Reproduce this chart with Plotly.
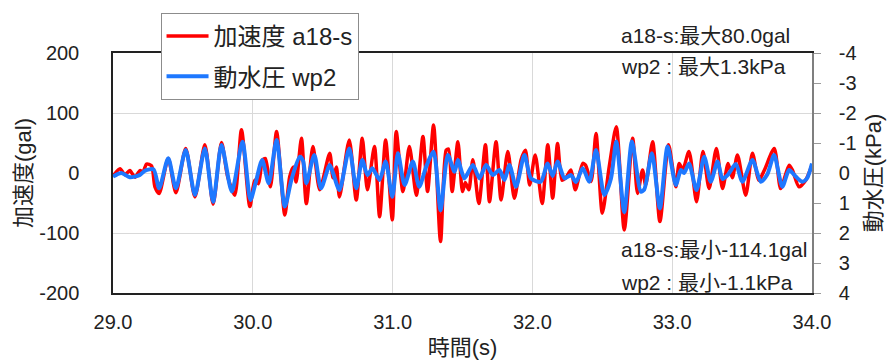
import plotly.graph_objects as go

# 加速度 a18-s (gal)
acc_t = [29.00, 29.05, 29.086, 29.12, 29.157, 29.193, 29.215, 29.24, 29.276, 29.30,
         29.33, 29.395, 29.45, 29.52, 29.586, 29.657, 29.716, 29.776, 29.82, 29.871,
         29.919, 29.979, 30.014, 30.04, 30.07, 30.09, 30.126, 30.17, 30.229, 30.264,
         30.29, 30.31, 30.348, 30.383, 30.43, 30.479, 30.55, 30.574, 30.598, 30.62,
         30.69, 30.74, 30.783, 30.82, 30.87, 30.907, 30.95, 30.998, 31.026, 31.074,
         31.12, 31.17, 31.217, 31.25, 31.293, 31.343, 31.383, 31.40, 31.426, 31.467,
         31.50, 31.52, 31.545, 31.574, 31.617, 31.664, 31.693, 31.74, 31.776, 31.824,
         31.871, 31.919, 31.95, 31.98, 32.02, 32.07, 32.11, 32.145, 32.18, 32.212,
         32.24, 32.276, 32.307, 32.36, 32.38, 32.42, 32.455, 32.50, 32.55, 32.60,
         32.657, 32.717, 32.752, 32.788, 32.81, 32.86, 32.912, 32.974, 33.026, 33.05,
         33.075, 33.12, 33.174, 33.22, 33.264, 33.316, 33.36, 33.40, 33.43, 33.467,
         33.526, 33.574, 33.62, 33.66, 33.73, 33.776, 33.836, 33.86, 33.907, 33.955,
         34.00]
acc_v = [-5, 7, -3, 4, -7, 4, 2, 15, 12, -23,
         -34, 24, -33, 41, -40, 47, -52, 51, -6, -37,
         72, -56, -12, -18, 22, 24, -23, 69, -70, -6,
         10, -15, 58, -51, 44, -28, 33, -8, 10, -40,
         55, -45, 58, -28, 44, -73, 55, -78, 69, -31,
         44, -37, 61, -31, 80.0, -114.1, 38, 40, -31, 52,
         -31, -16, -28, 22, -51, 47, -48, 52, -45, 36,
         -42, 22, 38, -20, 30, -51, 47, -42, 49, -12,
         -8, 5, -28, 16, 13, -14, 66, -67, 11, 77,
         -95, 58, -34, 5, -20, 52, -81, 47, -23, 16,
         5, 36, -48, 36, -26, 41, -26, 16, -8, 30,
         -37, 33, -12, 5, 41, -26, 13, 5, -23, -12,
         13]

# 動水圧 wp2 (kPa)
wp_t = [29.00, 29.06, 29.12, 29.19, 29.23, 29.29, 29.33, 29.395, 29.45, 29.52,
        29.586, 29.657, 29.716, 29.776, 29.85, 29.926, 29.983, 30.02, 30.067, 30.114,
        30.17, 30.229, 30.276, 30.336, 30.36, 30.383, 30.44, 30.488, 30.55, 30.574,
        30.62, 30.69, 30.74, 30.783, 30.82, 30.855, 30.907, 30.95, 30.998, 31.038,
        31.086, 31.145, 31.19, 31.24, 31.293, 31.343, 31.395, 31.443, 31.467, 31.514,
        31.574, 31.621, 31.669, 31.717, 31.764, 31.80, 31.836, 31.883, 31.943, 31.99,
        32.06, 32.109, 32.145, 32.18, 32.23, 32.276, 32.312, 32.36, 32.407, 32.455,
        32.514, 32.562, 32.60, 32.657, 32.712, 32.776, 32.80, 32.855, 32.912, 32.967,
        33.026, 33.062, 33.085, 33.12, 33.174, 33.229, 33.276, 33.324, 33.36, 33.40,
        33.455, 33.502, 33.574, 33.633, 33.68, 33.729, 33.788, 33.836, 33.88, 33.93,
        33.964, 34.00]
wp_v = [0.12, 0.0, 0.14, 0.07, -0.08, -0.12, 0.51, -0.49, 0.51, -0.77,
        0.73, -0.82, 0.96, -0.93, 0.62, -1.04, 0.90, 0.33, -0.43, 0.34,
        -1.1, 1.12, 0.23, -0.54, -0.40, 0.34, -0.60, 0.51, -0.27, 0.0,
        0.57, -0.82, 0.51, -0.43, 0.07, -0.16, 0.23, -0.38, 0.79, -0.66,
        0.40, -0.38, 0.46, -0.21, -0.71, 1.24, -0.60, -0.04, -0.43, 0.18,
        -0.27, 0.18, -0.27, 0.07, -0.10, 0.23, -0.27, 0.46, -0.60, 0.18,
        0.29, -0.32, 0.10, -0.38, 0.18, 0.07, 0.30, -0.16, 0.29, -0.77,
        0.73, 0.18, -1.05, 1.3, -1.05, 0.62, 0.55, -0.66, 1.18, -0.88,
        0.40, -0.10, 0.0, -0.32, 0.57, -0.54, 0.29, -0.38, 0.20, 0.05,
        -0.30, 0.29, -0.43, 0.29, 0.05, -0.60, 0.46, -0.10, 0.10, 0.29,
        0.18, -0.32]

x_ticks = [29.0, 30.0, 31.0, 32.0, 33.0, 34.0]
x_tick_text = ["29.0", "30.0", "31.0", "32.0", "33.0", "34.0"]
acc_ticks = [-200, -100, 0, 100, 200]
acc_tick_text = ["-200", "-100", "0", "100", "200"]
wp_ticks = [-4, -3, -2, -1, 0, 1, 2, 3, 4]
wp_tick_text = ["-4", "-3", "-2", "-1", "0", "1", "2", "3", "4"]

notes_top = ["a18-s:最大80.0gal", "wp2 : 最大1.3kPa"]
notes_bottom = ["a18-s:最小-114.1gal", "wp2 : 最小-1.1kPa"]

FONT = "Liberation Sans, Arial, Noto Sans CJK JP, sans-serif"
TEXT = "#222222"

fig = go.Figure()
fig.add_trace(go.Scatter(
    x=acc_t, y=acc_v, name="加速度 a18-s", mode="lines",
    line=dict(color="#ff0000", width=3.5, shape="spline", smoothing=0.7),
    legendgroup="acc", yaxis="y",
))
fig.add_trace(go.Scatter(
    x=wp_t, y=wp_v, name="動水圧 wp2", mode="lines",
    line=dict(color="#1e78ff", width=4, shape="spline", smoothing=0.7),
    legendgroup="wp", yaxis="y2",
))

fig.update_layout(
    width=891, height=363,
    margin=dict(l=113, r=79, t=53, b=70),
    paper_bgcolor="white", plot_bgcolor="white",
    font=dict(family=FONT, size=20, color=TEXT),
    showlegend=True,
    legend=dict(
        x=0.068, y=1.167, xanchor="left", yanchor="top",
        bgcolor="white", bordercolor="#8c8c8c", borderwidth=1,
        font=dict(size=24, color=TEXT),
        traceorder="grouped", tracegroupgap=6,
        itemwidth=42,
    ),
    xaxis=dict(
        range=[29.0, 34.0], tickvals=x_ticks, ticktext=x_tick_text,
        showgrid=True, gridcolor="#d9d9d9", gridwidth=1,
        showline=True, linecolor="#222222", linewidth=1.5, mirror=True,
        ticks="", ticklabelstandoff=10, zeroline=False,
        tickfont=dict(size=20),
        title=dict(text="時間(s)", font=dict(size=22), standoff=8),
        automargin=False,
    ),
    yaxis=dict(
        range=[-200, 200], tickvals=acc_ticks, ticktext=acc_tick_text,
        showgrid=True, gridcolor="#d9d9d9", gridwidth=1,
        showline=True, linecolor="#222222", linewidth=1.5,
        ticks="", ticklabelstandoff=28, zeroline=False,
        tickfont=dict(size=20),
        title=dict(text="加速度(gal)", font=dict(size=22), standoff=2),
        automargin=False,
    ),
    yaxis2=dict(
        range=[4, -4], tickvals=wp_ticks, ticktext=wp_tick_text,
        overlaying="y", side="right",
        showgrid=False, zeroline=False,
        showline=True, linecolor="#7f7f7f", linewidth=1.5,
        ticks="outside", ticklen=7, tickcolor="#9a9a9a", tickwidth=1,
        ticklabelstandoff=14,
        tickfont=dict(size=20),
        title=dict(text="動水圧(kPa)", font=dict(size=22), standoff=10),
        automargin=False,
    ),
)

for i, txt in enumerate(notes_top):
    fig.add_annotation(
        xref="paper", yref="paper", x=0.724, y=1.075 - i * 0.13,
        xanchor="left", yanchor="middle", text=txt, showarrow=False,
        font=dict(size=21, color=TEXT),
    )
for i, txt in enumerate(notes_bottom):
    fig.add_annotation(
        xref="paper", yref="paper", x=0.724, y=0.18 - i * 0.135,
        xanchor="left", yanchor="middle", text=txt, showarrow=False,
        font=dict(size=21, color=TEXT),
    )

fig.write_html("out.html")
